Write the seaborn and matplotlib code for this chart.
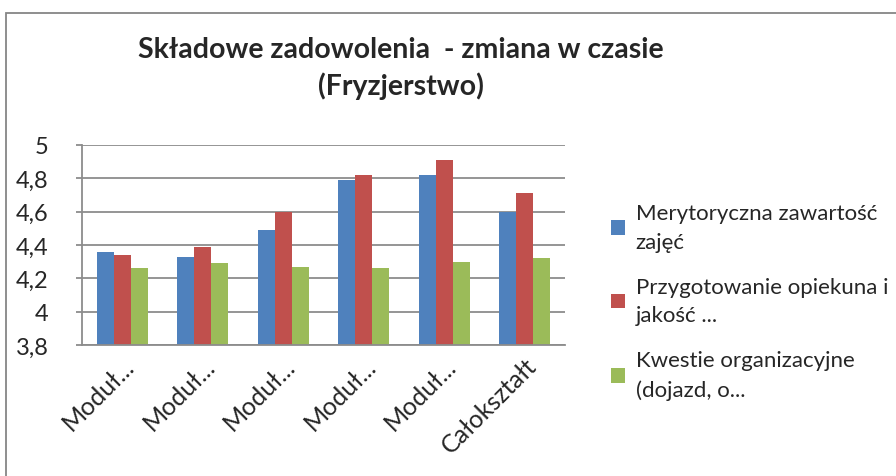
import matplotlib
matplotlib.use("Agg")
import matplotlib.pyplot as plt
import matplotlib.patches as mpatches
from matplotlib.ticker import FuncFormatter
import seaborn as sns
import pandas as pd

categories = ["Moduł...", "Moduł...", "Moduł...", "Moduł...", "Moduł...", "Całokształt"]
series_names = ["Merytoryczna zawartość\nzajęć",
                "Przygotowanie opiekuna i\njakość ...",
                "Kwestie organizacyjne\n(dojazd, o..."]
merytoryczna = [4.36, 4.33, 4.49, 4.79, 4.82, 4.60]
przygotowanie = [4.34, 4.39, 4.60, 4.82, 4.91, 4.71]
organizacyjne = [4.26, 4.29, 4.27, 4.26, 4.30, 4.32]
colors = ["#4F81BD", "#C0504D", "#9BBB59"]

rows = []
for vals, name in zip([merytoryczna, przygotowanie, organizacyjne], series_names):
    for i, v in enumerate(vals):
        rows.append({"pos": i, "series": name, "value": v})
df = pd.DataFrame(rows)

sns.set_theme(style="white")
plt.rcParams["font.family"] = ["Lato", "DejaVu Sans"]

fig = plt.figure(figsize=(8.96, 4.77), dpi=100)
ax = fig.add_axes([82/896, 1-346/477, (565-82)/896, 200/477])

sns.barplot(data=df, x="pos", y="value", hue="series", palette=colors,
            width=0.63, gap=0, saturation=1, ax=ax, legend=True, edgecolor="none")

ax.set_ylim(3.8, 5.0)
ax.set_yticks([3.8, 4.0, 4.2, 4.4, 4.6, 4.8, 5.0])
ax.yaxis.set_major_formatter(FuncFormatter(lambda v, p: ("%g" % round(v, 1)).replace(".", ",")))
ax.yaxis.grid(True, color="#8c8c8c", linewidth=1.3)
ax.set_axisbelow(True)
ax.set_xlabel("")
ax.set_ylabel("")
ax.set_xticks(range(len(categories)))
ax.set_xticklabels(categories, rotation=45, ha="right", va="top", rotation_mode="anchor")
for lbl in ax.get_xticklabels():
    lbl.set_fontsize(18)
for lbl in ax.get_yticklabels():
    lbl.set_fontsize(17)
ax.tick_params(axis="x", length=0, pad=6)
ax.tick_params(axis="y", length=4, color="#8c8c8c", width=1.3, pad=20, left=True)
for s in ["top", "right"]:
    ax.spines[s].set_visible(False)
for s in ["left", "bottom"]:
    ax.spines[s].set_color("#8c8c8c")
    ax.spines[s].set_linewidth(1.3)

handles, labels = ax.get_legend_handles_labels()
ax.get_legend().remove()
leg = fig.legend(handles, labels, loc="upper left", bbox_to_anchor=(602/896, 1-195/477),
                 frameon=False, fontsize=16, handlelength=0.62, handleheight=0.62,
                 handletextpad=0.5, labelspacing=1.12, borderaxespad=0)
for t in leg.get_texts():
    t.set_linespacing(1.55)

fig.text(401/896, 1-50/477, "Składowe zadowolenia  - zmiana w czasie",
         ha="center", va="center", fontsize=20.5, fontweight="bold")
fig.text(401/896, 1-86/477, "(Fryzjerstwo)",
         ha="center", va="center", fontsize=20.5, fontweight="bold")

fig.patches.append(mpatches.Rectangle((6/896, -0.1), 2, (477-14)/477 + 0.1,
                                      transform=fig.transFigure, fill=False,
                                      edgecolor="#868686", linewidth=1.3))

fig.savefig("out.png", dpi=100)
